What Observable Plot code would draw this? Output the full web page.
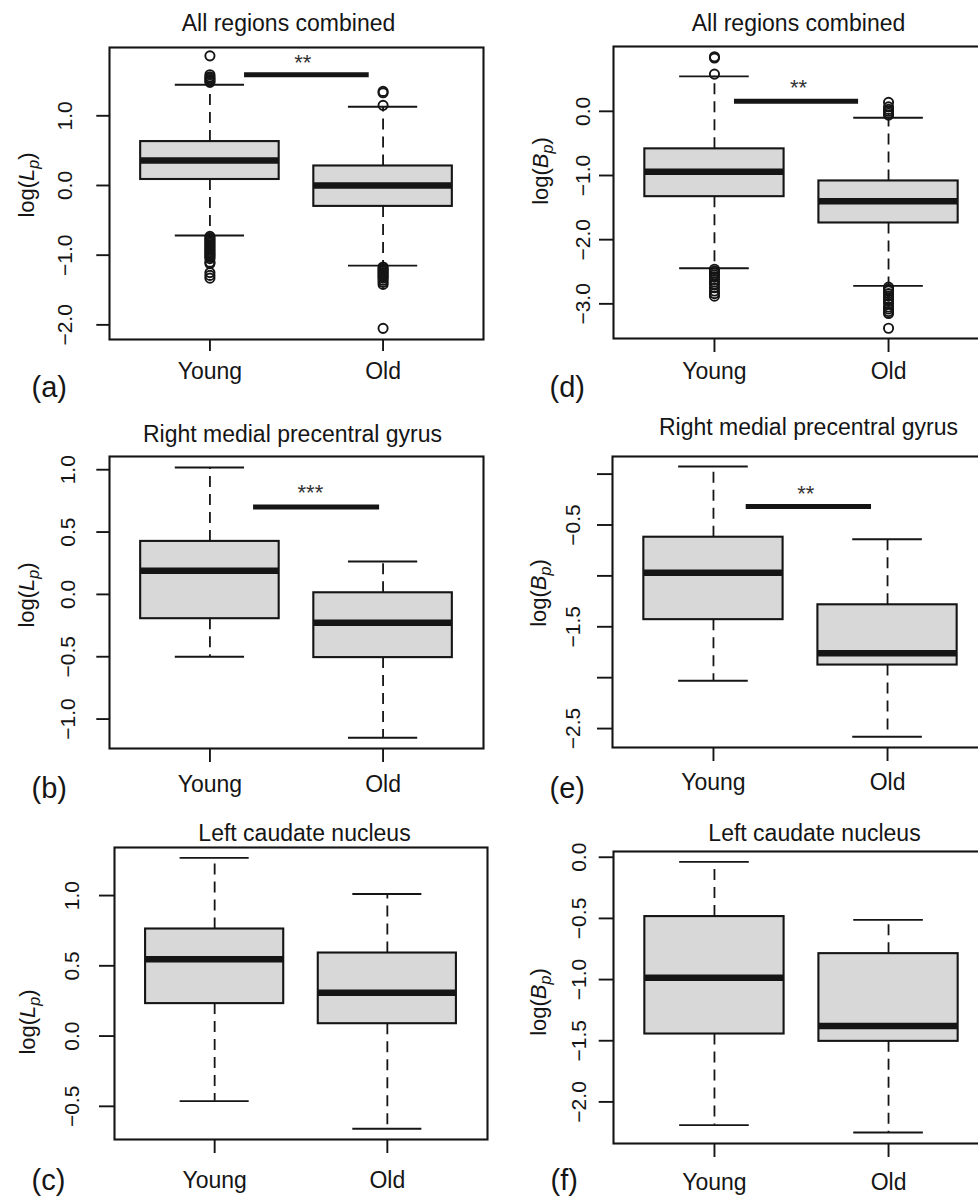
<!DOCTYPE html>
<html><head><meta charset="utf-8">
<script src="https://cdn.jsdelivr.net/npm/d3@7"></script>
<script src="https://cdn.jsdelivr.net/npm/@observablehq/plot@0.6"></script>
<style>
html,body{margin:0;padding:0;background:#fff;overflow:hidden;}
#chart{position:relative;width:978px;height:1196px;overflow:hidden;background:#fff;}
#chart svg{position:absolute;max-width:none;}
</style></head><body><div id="chart"></div>
<script>
// ---------------- data ----------------
const groups = ["Young", "Old"];
const panelLetters = ["a", "b", "c", "d", "e", "f"];
const titles = ["All regions combined", "Right medial precentral gyrus", "Left caudate nucleus",
                "All regions combined", "Right medial precentral gyrus", "Left caudate nucleus"];
const measures = ["L", "L", "L", "B", "B", "B"];
// per panel: [Young, Old]
const upperWhisker = [[1.445, 1.13], [1.018, 0.264], [1.268, 1.011], [0.545, -0.10], [0.075, -0.64], [-0.038, -0.512]];
const upperQuartile = [[0.63, 0.28], [0.425, 0.013], [0.762, 0.591], [-0.585, -1.085], [-0.62, -1.284], [-0.485, -0.788]];
const medians = [[0.36, 0.0], [0.19, -0.227], [0.546, 0.309], [-0.94, -1.40], [-0.97, -1.76], [-0.985, -1.38]];
const lowerQuartile = [[0.086, -0.30], [-0.195, -0.507], [0.231, 0.088], [-1.33, -1.74], [-1.43, -1.876], [-1.445, -1.505]];
const lowerWhisker = [[-0.717, -1.15], [-0.50, -1.15], [-0.463, -0.66], [-2.445, -2.72], [-2.03, -2.58], [-2.19, -2.25]];
const outliersYoung = [
  [1.86, 1.59, 1.56, 1.54, 1.52, 1.50, 1.48, -0.73, -0.75, -0.77, -0.79, -0.81, -0.83, -0.85, -0.87, -0.89, -0.91,
   -0.93, -0.95, -0.97, -0.99, -1.01, -1.03, -1.05, -1.10, -1.12, -1.25, -1.29, -1.33],
  [], [],
  [0.85, 0.83, 0.58, -2.46, -2.49, -2.52, -2.55, -2.58, -2.62, -2.66, -2.70, -2.75, -2.80, -2.84, -2.88],
  [], []
];
const outliersOld = [
  [1.35, 1.33, 1.15, -1.17, -1.19, -1.21, -1.23, -1.25, -1.27, -1.29, -1.31, -1.33, -1.36, -1.39, -1.42, -2.05],
  [], [],
  [0.14, 0.07, 0.03, 0.0, -0.03, -0.06, -2.74, -2.77, -2.80, -2.84, -2.88, -2.92, -2.96, -3.0, -3.05, -3.08, -3.12, -3.15, -3.38],
  [], []
];
// significance bars
const sigLabels = ["**", "***", null, "**", "**", null];
const sigFrom = [1.2, 1.252, null, 1.115, 1.188, null];
const sigTo = [1.92, 1.98, null, 1.828, 1.908, null];
const sigLevel = [1.59, 0.70, null, 0.156, -0.318, null];
const sigTextX = [1.536, 1.58, null, 1.483, 1.53, null];
const sigTextY = [1.85, 0.865, null, 0.45, -0.14, null];
// axis ticks
const yTicks = [[-2, -1, 0, 1], [-1, -0.5, 0, 0.5, 1], [-0.5, 0, 0.5, 1],
                [-3, -2, -1, 0], [-2.5, -2, -1.5, -1, -0.5, 0], [-2, -1.5, -1, -0.5, 0]];
const yTickLabels = [["−2.0", "−1.0", "0.0", "1.0"], ["−1.0", "−0.5", "0.0", "0.5", "1.0"], ["−0.5", "0.0", "0.5", "1.0"],
                     ["−3.0", "−2.0", "−1.0", "0.0"], ["−2.5", "", "−1.5", "", "−0.5", ""], ["−2.0", "−1.5", "−1.0", "−0.5", "0.0"]];
const yDomains = [[-2.21, 1.98], [-1.236, 1.106], [-0.736, 1.342], [-3.54, 1.01], [-2.686, 0.173], [-2.34, 0.047]];

// ---------------- layout (absolute page pixels) ----------------
const layout = [
  {left: 0,   top: 0,   w: 489, h: 400, fl: 109, fr: 483, ft: 47,  fb: 339,  tick: 12.7, yPad: 25, xTick: 12, xPad: 11, titleX: 288, titleY: 23,  labX: 31,  labY: 387,  ytX: 34,  ytY: 185},
  {left: 0,   top: 400, w: 489, h: 400, fl: 109, fr: 483, ft: 456, fb: 748,  tick: 12.7, yPad: 22, xTick: 14, xPad: 13, titleX: 292, titleY: 434, labX: 31,  labY: 788,  ytX: 34,  ytY: 595},
  {left: 0,   top: 800, w: 489, h: 396, fl: 114, fr: 487, ft: 847, fb: 1139, tick: 15,   yPad: 21, xTick: 14, xPad: 18, titleX: 304, titleY: 833, labX: 31,  labY: 1180, ytX: 35,  ytY: 1022},
  {left: 489, top: 0,   w: 511, h: 400, fl: 613, fr: 989, ft: 46,  fb: 338,  tick: 14,   yPad: 10, xTick: 14, xPad: 10, titleX: 798, titleY: 23,  labX: 549, labY: 387,  ytX: 548, ytY: 171},
  {left: 489, top: 400, w: 511, h: 400, fl: 612, fr: 988, ft: 456, fb: 747,  tick: 15,   yPad: 18, xTick: 14, xPad: 12, titleX: 808, titleY: 427, labX: 549, labY: 788,  ytX: 546, ytY: 593},
  {left: 489, top: 800, w: 511, h: 396, fl: 613, fr: 989, ft: 851, fb: 1143, tick: 14.3, yPad: 13, xTick: 14, xPad: 16, titleX: 814, titleY: 833, labX: 550, labY: 1180, ytX: 546, ytY: 1002}
];

const INK = "#151515";
const FONT = "'Liberation Sans', Arial, Helvetica, sans-serif";

function panel(i) {
  const L = layout[i];
  const rows = groups.map((g, j) => ({
    x: j + 1, group: g,
    lo: lowerWhisker[i][j], q1: lowerQuartile[i][j], med: medians[i][j],
    q3: upperQuartile[i][j], hi: upperWhisker[i][j]
  }));
  const outs = [
    ...outliersYoung[i].map(v => ({x: 1, y: v})),
    ...outliersOld[i].map(v => ({x: 2, y: v}))
  ];
  const tickLabelMap = new Map(yTicks[i].map((t, k) => [t, yTickLabels[i][k]]));
  const dash = "11,7";
  const marks = [
    Plot.ruleX(rows, {x: "x", y1: "q3", y2: "hi", stroke: INK, strokeWidth: 1.8, strokeDasharray: dash}),
    Plot.ruleX(rows, {x: "x", y1: "q1", y2: "lo", stroke: INK, strokeWidth: 1.8, strokeDasharray: dash}),
    Plot.ruleY(rows, {y: "hi", x1: d => d.x - 0.2, x2: d => d.x + 0.2, stroke: INK, strokeWidth: 1.9}),
    Plot.ruleY(rows, {y: "lo", x1: d => d.x - 0.2, x2: d => d.x + 0.2, stroke: INK, strokeWidth: 1.9}),
    Plot.rect(rows, {x1: d => d.x - 0.4, x2: d => d.x + 0.4, y1: "q1", y2: "q3", fill: "#d8d8d8", stroke: INK, strokeWidth: 2.1}),
    Plot.ruleY(rows, {y: "med", x1: d => d.x - 0.4, x2: d => d.x + 0.4, stroke: INK, strokeWidth: 6.5}),
    Plot.dot(outs, {x: "x", y: "y", r: 4.6, stroke: INK, strokeWidth: 1.9, fill: "none"}),
    Plot.frame({stroke: INK, strokeWidth: 2.1}),
    Plot.axisX([1, 2], {anchor: "bottom", tickFormat: d => groups[d - 1], tickSize: L.xTick, tickPadding: L.xPad,
      fontSize: 23, stroke: INK, strokeWidth: 1.9, label: null}),
    Plot.axisY(yTicks[i], {anchor: "left", tickFormat: d => tickLabelMap.get(d), tickSize: L.tick, tickPadding: L.yPad,
      tickRotate: -90, fontSize: 21, stroke: INK, strokeWidth: 1.9, label: null}),
    Plot.text([titles[i]], {text: d => d, frameAnchor: "top-left", dx: L.titleX - L.fl, dy: L.titleY - L.ft,
      textAnchor: "middle", lineAnchor: "middle", fontSize: 23, fill: INK}),
    Plot.text([`(${panelLetters[i]})`], {text: d => d, frameAnchor: "bottom-left", dx: L.labX - L.fl, dy: L.labY - L.fb,
      textAnchor: "start", lineAnchor: "middle", fontSize: 29, fill: INK})
  ];
  if (sigLabels[i]) {
    const sig = [{x1: sigFrom[i], x2: sigTo[i], y: sigLevel[i], tx: sigTextX[i], ty: sigTextY[i], label: sigLabels[i]}];
    marks.push(Plot.ruleY(sig, {y: "y", x1: "x1", x2: "x2", stroke: INK, strokeWidth: 5}));
    marks.push(Plot.text(sig, {x: "tx", y: "ty", text: "label", fontSize: 22, dy: 6, fill: "#333", lineAnchor: "middle"}));
  }
  const svg = Plot.plot({
    width: L.w, height: L.h,
    marginLeft: L.fl - L.left, marginRight: L.left + L.w - L.fr,
    marginTop: L.ft - L.top, marginBottom: L.top + L.h - L.fb,
    x: {domain: [0.42, 2.58]},
    y: {domain: yDomains[i]},
    style: {fontFamily: FONT, fontSize: "21px", background: "transparent", color: INK, overflow: "visible"},
    marks
  });
  // axis title with italic symbol and subscript
  const t = d3.select(svg).append("text")
    .attr("transform", `translate(${L.ytX - L.left},${L.ytY - L.top}) rotate(-90)`)
    .attr("text-anchor", "middle")
    .attr("font-size", 22)
    .attr("font-family", FONT)
    .attr("fill", INK);
  t.append("tspan").text("log(");
  t.append("tspan").attr("font-style", "italic").text(measures[i]);
  t.append("tspan").attr("font-style", "italic").attr("font-size", 16).attr("dy", 5).text("p");
  t.append("tspan").attr("dy", -5).text(")");
  svg.style.left = L.left + "px";
  svg.style.top = L.top + "px";
  return svg;
}

const chart = document.getElementById("chart");
for (let i = 0; i < 6; i++) chart.appendChild(panel(i));
</script>
</body></html>
